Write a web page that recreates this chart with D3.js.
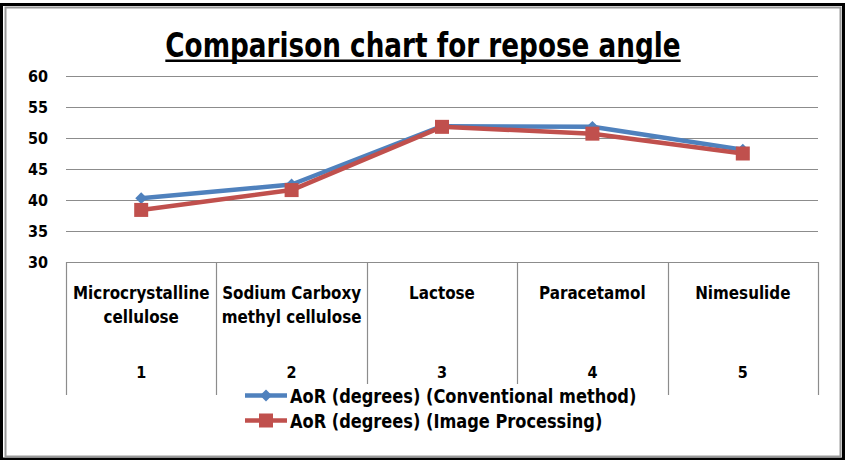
<!DOCTYPE html>
<html>
<head>
<meta charset="utf-8">
<script src="https://cdn.jsdelivr.net/npm/d3@7"></script>
<style>
  body { margin: 0; background: #fff; }
  text { font-family: "DejaVu Sans Condensed", "DejaVu Sans", sans-serif; font-weight: bold; fill: #000; }
</style>
</head>
<body>
<div class="chart"></div>
<script>
// data
var categories = [1, 2, 3, 4, 5];
var categoryNames = [
  ["Microcrystalline", "cellulose"],
  ["Sodium Carboxy", "methyl cellulose"],
  ["Lactose"],
  ["Paracetamol"],
  ["Nimesulide"]
];
var conventional = [40.3, 42.5, 51.9, 51.8, 48.1];
var imageProcessing = [38.4, 41.6, 51.8, 50.7, 47.5];
var seriesNames = ["AoR (degrees) (Conventional method)", "AoR (degrees) (Image Processing)"];
var yTicks = [30, 35, 40, 45, 50, 55, 60];

var svgWidth = 856;
var svgHeight = 460;

var margin = { top: 76, right: 38, bottom: 198, left: 66 };
var width = svgWidth - margin.left - margin.right;
var height = svgHeight - margin.top - margin.bottom;

var blue = "#4F81BD";
var red = "#C0504D";
var gridColor = "#8c8c8c";

// the original font is a touch narrower than DejaVu Condensed
function condense(factor) {
  return function (sel) {
    sel.each(function () {
      var w = this.getComputedTextLength();
      d3.select(this)
        .attr("textLength", w * factor)
        .attr("lengthAdjust", "spacingAndGlyphs");
    });
  };
}

var svg = d3.select(".chart")
  .append("svg")
  .attr("width", svgWidth)
  .attr("height", svgHeight);

// outer frame (black + gray double line)
svg.append("rect")
  .attr("x", 1.5).attr("y", 4.5)
  .attr("width", 842).attr("height", 454.5)
  .attr("fill", "none").attr("stroke", "#000").attr("stroke-width", 3);
svg.append("rect")
  .attr("x", 5.5).attr("y", 7.5)
  .attr("width", 835).attr("height", 449)
  .attr("fill", "none").attr("stroke", "#9a9a9a").attr("stroke-width", 2);

// title
var title = svg.append("text")
  .attr("x", 423)
  .attr("y", 57)
  .attr("text-anchor", "middle")
  .style("font-size", "33px")
  .text("Comparison chart for repose angle");
var tw = title.node().getComputedTextLength() * 0.885;
title.call(condense(0.885));
svg.append("line")
  .attr("x1", 423 - tw / 2).attr("x2", 423 + tw / 2)
  .attr("y1", 60.8).attr("y2", 60.8)
  .attr("stroke", "#000").attr("stroke-width", 2.6);

var chartGroup = svg.append("g")
  .attr("transform", `translate(${margin.left}, ${margin.top})`);

var xScale = d3.scaleBand()
  .domain(categories)
  .range([0, width])
  .padding(0);

var yScale = d3.scaleLinear()
  .domain([30, 60])
  .range([height, 0]);

// horizontal gridlines
chartGroup.append("g")
  .selectAll("line")
  .data(yTicks)
  .enter()
  .append("line")
  .attr("x1", 0)
  .attr("x2", width)
  .attr("y1", d => Math.round(yScale(d)) + 0.5)
  .attr("y2", d => Math.round(yScale(d)) + 0.5)
  .attr("stroke", gridColor)
  .attr("stroke-width", 1.2);

// y tick labels
chartGroup.append("g")
  .selectAll("text")
  .data(yTicks)
  .enter()
  .append("text")
  .attr("x", -18)
  .attr("y", d => yScale(d))
  .attr("dy", "0.36em")
  .attr("text-anchor", "end")
  .style("font-size", "16px")
  .text(d => d);

// category table lines
var tableBottom = 133;
var bounds = categories.map(d => xScale(d)).concat([width]);
chartGroup.append("g")
  .selectAll("line")
  .data(bounds)
  .enter()
  .append("line")
  .attr("x1", d => Math.round(d) + 0.5)
  .attr("x2", d => Math.round(d) + 0.5)
  .attr("y1", height)
  .attr("y2", height + tableBottom)
  .attr("stroke", gridColor)
  .attr("stroke-width", 1.2);

// category labels
var catGroup = chartGroup.append("g");
categories.forEach(function (c, i) {
  var cx = xScale(c) + xScale.bandwidth() / 2;
  categoryNames[i].forEach(function (line, j) {
    catGroup.append("text")
      .attr("x", cx)
      .attr("y", height + 37 + j * 24)
      .attr("text-anchor", "middle")
      .style("font-size", "18.5px")
      .text(line)
      .call(condense(0.91));
  });
  catGroup.append("text")
    .attr("x", cx)
    .attr("y", height + 116)
    .attr("text-anchor", "middle")
    .style("font-size", "16px")
    .text(c);
});

// lines
var line = d3.line()
  .x((d, i) => xScale(categories[i]) + xScale.bandwidth() / 2)
  .y(d => yScale(d));

chartGroup.append("path")
  .datum(conventional)
  .attr("d", line)
  .attr("fill", "none")
  .attr("stroke", blue)
  .attr("stroke-width", 4.5)
  .attr("stroke-linejoin", "round");

chartGroup.selectAll(".diamond")
  .data(conventional)
  .enter()
  .append("path")
  .attr("class", "diamond")
  .attr("d", d3.symbol(d3.symbolDiamond2, 90))
  .attr("transform", (d, i) => `translate(${xScale(categories[i]) + xScale.bandwidth() / 2}, ${yScale(d)})`)
  .attr("fill", blue);

chartGroup.append("path")
  .datum(imageProcessing)
  .attr("d", line)
  .attr("fill", "none")
  .attr("stroke", red)
  .attr("stroke-width", 4.5)
  .attr("stroke-linejoin", "round");

chartGroup.selectAll(".square")
  .data(imageProcessing)
  .enter()
  .append("rect")
  .attr("class", "square")
  .attr("x", (d, i) => xScale(categories[i]) + xScale.bandwidth() / 2 - 7)
  .attr("y", d => yScale(d) - 7)
  .attr("width", 14)
  .attr("height", 14)
  .attr("fill", red);

// legend
var legend = svg.append("g");
legend.append("rect")
  .attr("x", 240).attr("y", 384)
  .attr("width", 400).attr("height", 50)
  .attr("fill", "#fff");

var legendRows = [
  { name: seriesNames[0], color: blue, y: 395.5, marker: "diamond" },
  { name: seriesNames[1], color: red, y: 420.5, marker: "square" }
];
legendRows.forEach(function (r) {
  legend.append("line")
    .attr("x1", 245).attr("x2", 287)
    .attr("y1", r.y).attr("y2", r.y)
    .attr("stroke", r.color)
    .attr("stroke-width", 4.5);
  if (r.marker === "diamond") {
    legend.append("path")
      .attr("d", d3.symbol(d3.symbolDiamond2, 90))
      .attr("transform", `translate(266, ${r.y})`)
      .attr("fill", r.color);
  } else {
    legend.append("rect")
      .attr("x", 259).attr("y", r.y - 7)
      .attr("width", 14).attr("height", 14)
      .attr("fill", r.color);
  }
  legend.append("text")
    .attr("x", 290)
    .attr("y", r.y + 7)
    .style("font-size", "20px")
    .text(r.name)
    .call(condense(0.9));
});
</script>
</body>
</html>
